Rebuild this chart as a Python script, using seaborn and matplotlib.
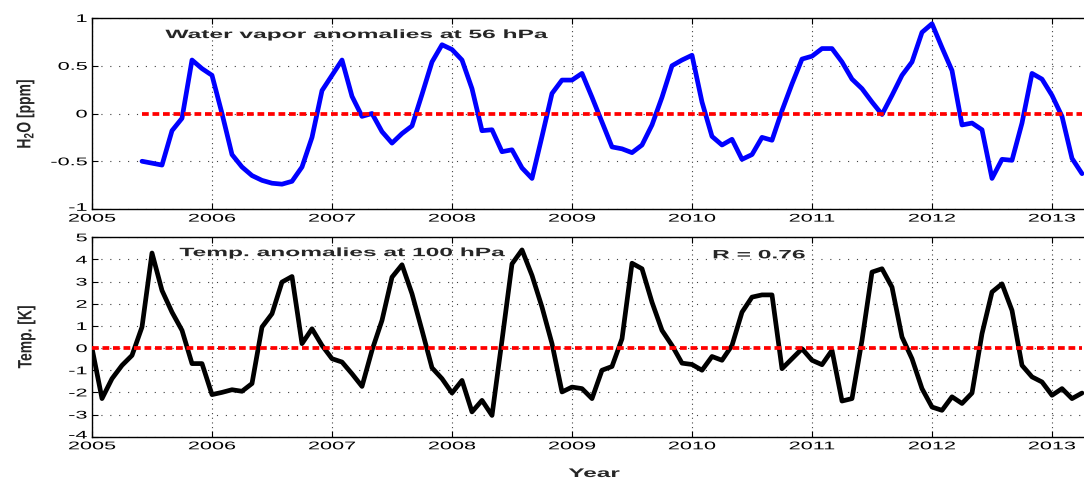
import numpy as np
import pandas as pd
import matplotlib
matplotlib.use("Agg")
import matplotlib.pyplot as plt
import seaborn as sns
from matplotlib.patheffects import AbstractPathEffect
from matplotlib.transforms import Affine2D, ScaledTranslation

# ---- data: monthly anomalies -------------------------------------------
h2o_start = "2005-06"          # first month of the 56 hPa water vapour record
h2o_ppm = [
    -0.50, -0.52, -0.54, -0.18, -0.05, 0.56, 0.47, 0.40, 0.00, -0.43,
    -0.56, -0.65, -0.70, -0.73, -0.74, -0.71, -0.56, -0.25, 0.24, 0.40,
    0.56, 0.18, -0.03, 0.00, -0.19, -0.31, -0.21, -0.13, 0.20, 0.54,
    0.72, 0.67, 0.56, 0.26, -0.18, -0.17, -0.40, -0.38, -0.57, -0.68,
    -0.24, 0.21, 0.35, 0.35, 0.42, 0.17, -0.09, -0.35, -0.37, -0.41,
    -0.33, -0.12, 0.17, 0.50, 0.56, 0.61, 0.12, -0.24, -0.33, -0.27,
    -0.48, -0.43, -0.25, -0.28, 0.03, 0.31, 0.57, 0.60, 0.68, 0.68,
    0.54, 0.36, 0.26, 0.12, -0.01, 0.19, 0.40, 0.54, 0.85, 0.94,
    0.69, 0.45, -0.12, -0.10, -0.17, -0.68, -0.48, -0.49, -0.10, 0.42,
    0.36, 0.19, -0.03, -0.47, -0.63,
]

temp_start = "2005-01"         # first month of the 100 hPa temperature record
temp_k = [
    0.00, -2.28, -1.38, -0.78, -0.33, 0.95, 4.29, 2.60, 1.62, 0.80,
    -0.70, -0.70, -2.10, -2.00, -1.88, -1.95, -1.60, 0.95, 1.55, 2.98,
    3.23, 0.20, 0.87, 0.12, -0.48, -0.63, -1.16, -1.73, -0.10, 1.25,
    3.20, 3.76, 2.45, 0.80, -0.89, -1.38, -2.03, -1.46, -2.88, -2.36,
    -3.04, 0.35, 3.80, 4.43, 3.28, 1.85, 0.20, -1.98, -1.76, -1.83,
    -2.28, -1.00, -0.83, 0.42, 3.83, 3.58, 2.07, 0.80, 0.12, -0.68,
    -0.74, -1.00, -0.38, -0.55, 0.12, 1.62, 2.30, 2.40, 2.40, -0.93,
    -0.48, -0.03, -0.55, -0.75, -0.10, -2.39, -2.28, 0.35, 3.43, 3.58,
    2.75, 0.50, -0.48, -1.83, -2.66, -2.81, -2.20, -2.50, -2.03, 0.65,
    2.53, 2.90, 1.70, -0.78, -1.30, -1.53, -2.13, -1.83, -2.28, -2.03,
]

r_value = 0.76
year_ticks = [2005, 2006, 2007, 2008, 2009, 2010, 2011, 2012, 2013]
h2o_ticks = [-1, -0.5, 0, 0.5, 1]
h2o_tick_labels = ["-1", "-0.5", "0", "0.5", "1"]
temp_ticks = [-4, -3, -2, -1, 0, 1, 2, 3, 4, 5]
temp_tick_labels = ["-4", "-3", "-2", "-1", "0", "1", "2", "3", "4", "5"]


def decimal_years(start, n):
    months = pd.date_range(start, periods=n, freq="MS")
    return months.year + (months.month - 1) / 12.0


h2o = pd.DataFrame({"year": decimal_years(h2o_start, len(h2o_ppm)), "anom": h2o_ppm})
temp = pd.DataFrame({"year": decimal_years(temp_start, len(temp_k)), "anom": temp_k})


# ---- wide lettering: stretch glyphs horizontally about an anchor ---------
class Widen(AbstractPathEffect):
    def __init__(self, sx=2.0, anchor="center"):
        super().__init__()
        self.sx = sx
        self.anchor = anchor

    def draw_path(self, renderer, gc, tpath, affine, rgbFace=None):
        ext = tpath.get_extents(affine)
        x0 = {"left": ext.x0, "right": ext.x1}.get(self.anchor, 0.5 * (ext.x0 + ext.x1))
        stretched = affine + Affine2D().translate(-x0, 0).scale(self.sx, 1.0).translate(x0, 0)
        renderer.draw_path(gc, tpath, stretched, rgbFace)


# ---- style ---------------------------------------------------------------
sns.set_style("ticks", {
    "xtick.direction": "in",
    "ytick.direction": "in",
    "axes.edgecolor": "black",
})
plt.rcParams.update({
    "font.family": ["Liberation Sans", "DejaVu Sans"],
    "mathtext.fontset": "custom",
    "mathtext.rm": "Liberation Sans",
    "mathtext.bf": "Liberation Sans:bold",
    "axes.unicode_minus": False,
    "xtick.top": True,
    "ytick.right": True,
    "axes.linewidth": 1.0,
})

WIDE = 1.95
TITLE_WIDE = 2.03
fig = plt.figure(figsize=(10.84, 4.8), dpi=100)
W, H = 1084.0, 480.0
left_px, right_px = 92.0, 1096.0
ax1 = fig.add_axes([left_px / W, 1 - 209.0 / H, (right_px - left_px) / W, (209.0 - 18.0) / H])
ax2 = fig.add_axes([left_px / W, 1 - 436.7 / H, (right_px - left_px) / W, (436.7 - 237.3) / H])
xmax = 2005 + (right_px - left_px) / 120.0

panels = [
    (ax1, h2o, "#0000ff", h2o_ticks, h2o_tick_labels, (-1, 1)),
    (ax2, temp, "black", temp_ticks, temp_tick_labels, (-4, 5)),
]

for ax, df, color, yt, ytl, ylim in panels:
    ax.set_axisbelow(True)
    ax.xaxis.grid(True, color="0.25", linestyle=(0, (1, 3.2)), linewidth=0.8)
    ax.yaxis.grid(True, color="0.25", linestyle=(0, (1, 7)), linewidth=0.8)
    sns.lineplot(data=df, x="year", y="anom", ax=ax, color=color,
                 linewidth=3.4, estimator=None, zorder=3)
    ax.hlines(0, df["year"].iloc[0], df["year"].iloc[-1], colors="#ff0000",
              linestyles=[(0, (1.8, 1.0))], linewidth=2.7, zorder=4)
    ax.set_xlim(2005, xmax)
    ax.set_ylim(*ylim)
    ax.set_xticks(year_ticks)
    ax.set_xticklabels([str(y) for y in year_ticks])
    ax.set_yticks(yt)
    ax.set_yticklabels(ytl)
    ax.tick_params(axis="both", which="major", length=4, width=0.8,
                   labelsize=8, colors="black")
    ax.tick_params(axis="x", pad=3.3)
    ax.tick_params(axis="y", pad=3.5)
    for tick in ax.xaxis.get_major_ticks():
        tick.label1.set_path_effects([Widen(WIDE, "center")])
    for tick in ax.yaxis.get_major_ticks():
        tick.label1.set_path_effects([Widen(WIDE, "right")])
    # lift the lowest value label a little so it clears the year label below it
    low = ax.yaxis.get_major_ticks()[0].label1
    low.set_transform(low.get_transform() + ScaledTranslation(0, 2.2 / 100, fig.dpi_scale_trans))
    for s in ax.spines.values():
        s.set_color("black")
        s.set_linewidth(1.0)
    ax.set_xlabel("")

# axis labels
ax1.set_ylabel(r"$\mathbf{H_2O}$ [ppm]", fontsize=10, fontweight="bold")
ax2.set_ylabel("Temp. [K]", fontsize=10, fontweight="bold")
for ax, xpx in ((ax1, 25.0), (ax2, 26.0)):
    ax.yaxis.set_label_coords((xpx - left_px) / (right_px - left_px), 0.5)
    ax.yaxis.label.set_va("center")
    ax.yaxis.label.set_path_effects([Widen(1.4, "center")])

ax2.set_xlabel("Year", fontsize=9, fontweight="bold")
ax2.xaxis.set_label_coords(0.5, -(477.0 - 436.7) / (436.7 - 237.3))
ax2.xaxis.label.set_va("baseline")
ax2.xaxis.label.set_path_effects([Widen(WIDE, "center")])

# panel annotations
ax1.text(2007.21, 0.79, "Water vapor anomalies at 56 hPa", fontsize=8.7,
         fontweight="bold", ha="center", va="baseline",
         path_effects=[Widen(TITLE_WIDE, "center")], zorder=5)
ax2.text(2007.09, 4.15, "Temp. anomalies at 100 hPa", fontsize=8.7,
         fontweight="bold", ha="center", va="baseline",
         path_effects=[Widen(TITLE_WIDE, "center")], zorder=5)
ax2.text(2010.56, 4.05, f"R = {r_value:.2f}", fontsize=8.7,
         fontweight="bold", ha="center", va="baseline",
         path_effects=[Widen(TITLE_WIDE, "center")], zorder=5)

fig.savefig("out.png", dpi=100)
